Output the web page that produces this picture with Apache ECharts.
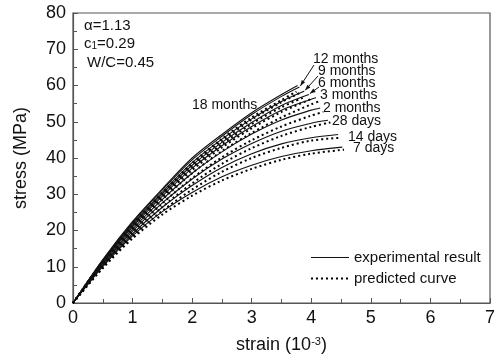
<!DOCTYPE html>
<html><head><meta charset="utf-8">
<script src="https://cdn.jsdelivr.net/npm/echarts@6/dist/echarts.min.js"></script>
<style>html,body{margin:0;padding:0;background:#fff}#c{width:501px;height:360px}</style>
</head><body><div id="c"></div>
<script>
// ---- data (strain in 10^-3, stress in MPa) ----
var curveNames = ['18 months','12 months','9 months','6 months','3 months','2 months','28 days','14 days','7 days'];
var xTicks = [0,1,2,3,4,5,6,7];
var yTicks = [0,10,20,30,40,50,60,70,80];

// experimental (solid)
var exp18mStrain = [0,0.5,1,1.5,2,2.5,3,3.5,3.77];
var exp18mStress = [0,12,22.5,31.5,40,46.5,52.5,57.5,60];
var exp12mStrain = [0,0.5,1,1.5,2,2.5,3,3.5,3.8];
var exp12mStress = [0,11.8,22.2,31.2,39.5,46,52,57,59.6];
var exp9mStrain = [0,0.5,1,1.5,2,2.5,3,3.5,3.88];
var exp9mStress = [0,11.6,21.8,30.6,38.7,45.2,50.8,55.6,58.4];
var exp6mStrain = [0,0.5,1,1.5,2,2.5,3,3.5,3.96];
var exp6mStress = [0,11.4,21.4,30.1,38,44.3,49.8,54.5,57.5];
var exp3mStrain = [0,0.5,1,1.5,2,2.5,3,3.5,4.0,4.08];
var exp3mStress = [0,11.2,21,29.5,37.2,43.4,48.7,53.2,56.2,56.6];
var exp2mStrain = [0,0.5,1,1.5,2,2.5,3,3.5,4.0,4.15];
var exp2mStress = [0,10.9,20.4,28.6,35.8,41.7,46.6,50.5,53.2,53.8];
var exp28dStrain = [0,0.5,1,1.5,2,2.5,3,3.5,4.0,4.28];
var exp28dStress = [0,10.6,19.8,27.6,34.2,39.7,44,47.4,49.6,50.4];
var exp14dStrain = [0,0.5,1,1.5,2,2.5,3,3.5,4.0,4.45];
var exp14dStress = [0,10.3,19.1,26.4,32.4,37.4,41.2,43.9,45.6,46.5];
var exp7dStrain = [0,0.5,1,1.5,2,2.5,3,3.5,4.0,4.52];
var exp7dStress = [0,10,18.5,25.2,30.5,34.8,38,40.4,42,43];

// predicted (dotted)
var pre18mStrain = [0,0.5,1,1.5,2,2.5,3,3.5,3.75];
var pre18mStress = [0,11.6,21.7,30.5,38.6,45.3,51.2,56,58.3];
var pre12mStrain = [0,0.5,1,1.5,2,2.5,3,3.5,3.8];
var pre12mStress = [0,11.4,21.4,30.1,38.1,44.7,50.6,55.4,57.9];
var pre9mStrain = [0,0.5,1,1.5,2,2.5,3,3.5,3.9];
var pre9mStress = [0,11.2,21,29.6,37.4,43.8,49.4,54,56.9];
var pre6mStrain = [0,0.5,1,1.5,2,2.5,3,3.5,4.0];
var pre6mStress = [0,11,20.6,29.1,36.7,42.9,48.2,52.7,56.3];
var pre3mStrain = [0,0.5,1,1.5,2,2.5,3,3.5,4.0,4.12];
var pre3mStress = [0,10.8,20.2,28.5,35.8,41.9,46.9,51.2,54.8,55.6];
var pre2mStrain = [0,0.5,1,1.5,2,2.5,3,3.5,4.0,4.2];
var pre2mStress = [0,10.5,19.6,27.5,34.4,40.2,44.9,48.7,51.7,52.7];
var pre28dStrain = [0,0.5,1,1.5,2,2.5,3,3.5,4.0,4.32];
var pre28dStress = [0,10.2,19,26.5,33,38.4,42.7,46.1,48.6,49.8];
var pre14dStrain = [0,0.5,1,1.5,2,2.5,3,3.5,4.0,4.5];
var pre14dStress = [0,9.9,18.4,25.4,31.3,36.2,40,42.8,44.8,45.6];
var pre7dStrain = [0,0.5,1,1.5,2,2.5,3,3.5,4.0,4.55];
var pre7dStress = [0,9.6,17.8,24.4,29.6,33.8,37,39.5,41.2,42.3];

var expCurves = [[exp18mStrain,exp18mStress],[exp12mStrain,exp12mStress],[exp9mStrain,exp9mStress],[exp6mStrain,exp6mStress],[exp3mStrain,exp3mStress],[exp2mStrain,exp2mStress],[exp28dStrain,exp28dStress],[exp14dStrain,exp14dStress],[exp7dStrain,exp7dStress]];
var preCurves = [[pre18mStrain,pre18mStress],[pre12mStrain,pre12mStress],[pre9mStrain,pre9mStress],[pre6mStrain,pre6mStress],[pre3mStrain,pre3mStress],[pre2mStrain,pre2mStress],[pre28dStrain,pre28dStress],[pre14dStrain,pre14dStress],[pre7dStrain,pre7dStress]];

function zip(a,b){ return a.map(function(v,i){ return [v,b[i]]; }); }

var solidStyle = {color:'#111', width:1.1, type:'solid'};
var dotStyle = {color:'#000', width:2, type:[2,3]};
var series = [];
expCurves.forEach(function(c){
  series.push({type:'line', name:'experimental result', data:zip(c[0],c[1]), smooth:0.3, showSymbol:false, symbol:'none',
    lineStyle:solidStyle, itemStyle:{color:'#111'}, silent:true, z:3});
});
preCurves.forEach(function(c){
  series.push({type:'line', name:'predicted curve', data:zip(c[0],c[1]), smooth:0.3, showSymbol:false, symbol:'none',
    lineStyle:dotStyle, itemStyle:{color:'#000'}, silent:true, z:2});
});

var font = 'Arial, "Liberation Sans", sans-serif';
var chart = echarts.init(document.getElementById('c'), null, {renderer:'canvas'});
chart.setOption({
  animation:false,
  backgroundColor:'#fff',
  grid:{left:73, right:11, top:13, bottom:57, show:true, borderColor:'#555', borderWidth:1.2},
  legend:{
    data:[{name:'experimental result', lineStyle:{width:1.1, type:'solid', color:'#111'}},
          {name:'predicted curve', lineStyle:{width:2, type:[2,3], color:'#000'}}],
    orient:'vertical', left:305, top:245, itemWidth:38, itemHeight:14, itemGap:6,
    itemStyle:{opacity:0},
    textStyle:{fontFamily:font, fontSize:15, color:'#111'}, selectedMode:false
  },
  xAxis:{type:'value', min:0, max:7, interval:1,
    name:'strain (10{sup|-3})', nameLocation:'middle', nameGap:33,
    nameTextStyle:{fontFamily:font, fontSize:18, color:'#111', rich:{sup:{fontSize:11, verticalAlign:'top', padding:[0,0,8,0], fontFamily:font, color:'#111'}}},
    axisLine:{lineStyle:{color:'#555', width:1.2}},
    axisTick:{inside:true, length:5, lineStyle:{color:'#555'}},
    minorTick:{show:true, splitNumber:2, length:4, lineStyle:{color:'#555'}},
    splitLine:{show:false},
    axisLabel:{fontFamily:font, fontSize:18, color:'#111', margin:6}
  },
  yAxis:{type:'value', min:0, max:80, interval:10,
    name:'stress (MPa)', nameLocation:'middle', nameGap:43,
    nameTextStyle:{fontFamily:font, fontSize:18, color:'#111'},
    axisLine:{lineStyle:{color:'#555', width:1.2}},
    axisTick:{inside:true, length:5, lineStyle:{color:'#555'}},
    minorTick:{show:true, splitNumber:2, length:4, lineStyle:{color:'#555'}},
    splitLine:{show:false},
    axisLabel:{fontFamily:font, fontSize:18, color:'#111', margin:7}
  },
  series:series
});

// annotations
var g = [];
function txt(x,y,s,size){ return {type:'text', left:x, top:y, style:{text:s, fontFamily:font, fontSize:size||14, fill:'#111'}, z:10}; }
g.push(txt(84,18,'α=1.13',15));
g.push({type:'text', left:84, top:36, style:{text:'c{s|1}=0.29', fontFamily:font, fontSize:15, fill:'#111', rich:{s:{fontSize:10, fontFamily:font, fill:'#111', verticalAlign:'bottom', padding:[6,0,0,0]}}}});
g.push(txt(87,55,'W/C=0.45',15));
var labelPos = [[192,98],[313,52],[318,64],[318,76],[320,88],[323,101],[332,114],[348,130],[353,141]];
curveNames.forEach(function(n,i){ g.push(txt(labelPos[i][0], labelPos[i][1], n, 14)); });
var leaders = [[1,[314,65]],[2,[318,76]],[3,[319,87]]];
leaders.forEach(function(L){
  var c = expCurves[L[0]];
  var end = chart.convertToPixel({gridIndex:0}, [c[0][c[0].length-1], c[1][c[1].length-1]]);
  var s = L[1];
  var ex = end[0]+1, ey = end[1]-1;
  g.push({type:'line', shape:{x1:s[0], y1:s[1], x2:ex, y2:ey}, style:{stroke:'#111', lineWidth:1}, z:10});
  var ang = Math.atan2(ey-s[1], ex-s[0]);
  var len=6, w=0.35;
  g.push({type:'polygon', shape:{points:[[ex,ey],[ex-len*Math.cos(ang-w),ey-len*Math.sin(ang-w)],[ex-len*Math.cos(ang+w),ey-len*Math.sin(ang+w)]]}, style:{fill:'#111'}, z:10});
});
chart.setOption({graphic:g});
</script>
</body></html>
